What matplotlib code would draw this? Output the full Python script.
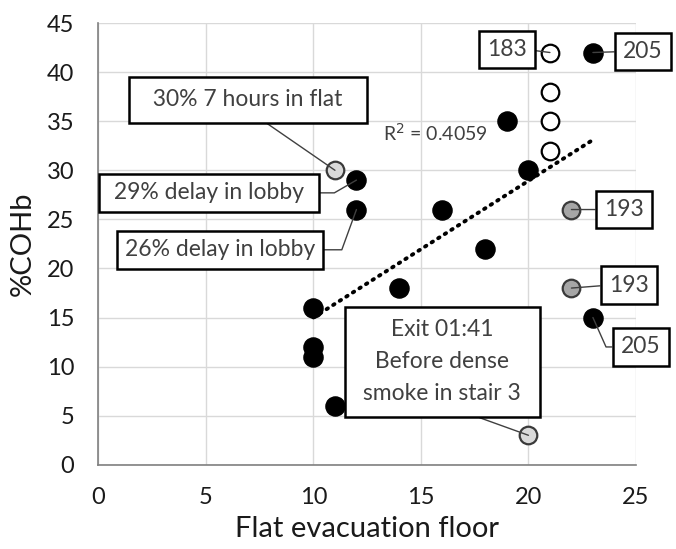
import matplotlib
matplotlib.use('Agg')
import matplotlib.pyplot as plt

plt.rcParams['font.family'] = ['Lato', 'DejaVu Sans']

# dados
pretos_x = [23, 19, 20, 12, 12, 16, 18, 14, 10, 10, 10, 11, 23]
pretos_y = [42, 35, 30, 29, 26, 26, 22, 18, 16, 12, 11, 6, 15]
brancos_x = [21, 21, 21, 21]
brancos_y = [42, 38, 35, 32]
cinza_x = [22, 22]
cinza_y = [26, 18]
claros_x = [11, 20]
claros_y = [30, 3]
tend_x = [10, 23]
tend_y = [15.0, 33.1]
r2_texto = 'R$^2$ = 0.4059'

# rótulos: (texto, ponto anotado, posição da caixa, pad, relpos, conector)
rotulos = [
    ('  30% 7 hours in flat  ', (claros_x[0], claros_y[0]), (6.94, 37.2), 0.55, (0.5, 0), 'arc3'),
    (' 29% delay in lobby ', (pretos_x[3], pretos_y[3]), (5.14, 27.7), 0.38, (1, 0.5), 'angle,angleA=0,angleB=30,rad=0'),
    ('26% delay in lobby', (pretos_x[4], pretos_y[4]), (5.65, 21.9), 0.36, (1, 0.5), 'angle,angleA=0,angleB=70,rad=0'),
    ('183', (brancos_x[0], brancos_y[0]), (19.0, 42.3), 0.36, (1, 0.5), 'arc3'),
    ('205', (pretos_x[0], pretos_y[0]), (25.33, 42.1), 0.36, (0, 0.5), 'arc3'),
    ('193', (cinza_x[0], cinza_y[0]), (24.44, 26.0), 0.36, (0, 0.5), 'arc3'),
    ('193', (cinza_x[1], cinza_y[1]), (24.67, 18.3), 0.36, (0, 0.5), 'arc3'),
    ('205', (pretos_x[12], pretos_y[12]), (25.22, 12.0), 0.36, (0, 0.5), 'angle,angleA=0,angleB=114,rad=0'),
    (' Exit 01:41 \n Before dense \n smoke in stair 3 ', (claros_x[1], claros_y[1]), (15.99, 10.5), 0.55, (0.5, 0), 'arc3'),
]

fig = plt.figure(figsize=(6.76, 5.49), dpi=100)
ax = fig.add_axes([0.1457, 0.1535, 0.795, 0.8045])

ax.plot(tend_x, tend_y, color='black', linewidth=2.8,
        linestyle=(0, (0.4, 1.6)), dash_capstyle='round', zorder=2)
ax.scatter(pretos_x, pretos_y, s=190, color='black', zorder=3)
ax.scatter(brancos_x, brancos_y, s=160, facecolor='white', edgecolor='black', linewidth=1.6, zorder=3)
ax.scatter(cinza_x, cinza_y, s=160, facecolor='#a6a6a6', edgecolor='#3a3a3a', linewidth=1.6, zorder=3)
ax.scatter(claros_x, claros_y, s=160, facecolor='#d9d9d9', edgecolor='#3a3a3a', linewidth=1.6, zorder=3)

ax.text(15.65, 33.8, r2_texto, fontsize=14, color='#404040', ha='center', va='center')

for texto, ponto, pos, pad, rel, con in rotulos:
    ax.annotate(texto, xy=ponto, xytext=pos, fontsize=16.5, color='#404040',
                ha='center', va='center', annotation_clip=False, linespacing=1.65,
                bbox=dict(boxstyle='square,pad=%s' % pad, facecolor='white', edgecolor='black', linewidth=1.8),
                arrowprops=dict(arrowstyle='-', color='#404040', linewidth=1.0, relpos=rel,
                                connectionstyle=con, shrinkA=0, shrinkB=0),
                zorder=4)

ax.set_xlim(0, 25)
ax.set_ylim(0, 45)
ax.set_xticks(range(0, 26, 5))
ax.set_yticks(range(0, 46, 5))
ax.grid(True, color='#d9d9d9', linewidth=1.0)
ax.set_axisbelow(True)
ax.tick_params(length=0, labelsize=17, colors='#1a1a1a')
ax.tick_params(axis='x', pad=16)
ax.tick_params(axis='y', pad=17.5)
for s in ['top', 'right']:
    ax.spines[s].set_visible(False)
for s in ['left', 'bottom']:
    ax.spines[s].set_color('#808080')
    ax.spines[s].set_linewidth(1.2)
ax.set_xlabel('Flat evacuation floor', fontsize=21, labelpad=6, color='#1a1a1a')
ax.set_ylabel('%COHb', fontsize=21, labelpad=8, color='#1a1a1a')

fig.savefig('out.png', dpi=100)
